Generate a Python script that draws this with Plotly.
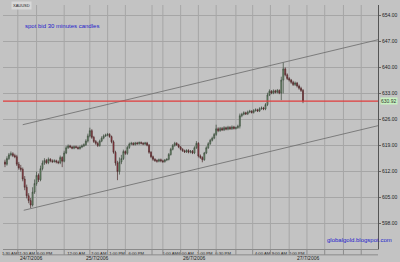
import plotly.graph_objects as go

# ---------------- data ----------------
opens = [614.6, 614.0, 615.5, 616.5, 616.8, 616.3, 616.0, 614.0, 613.0, 612.6,
         610.0, 607.8, 605.5, 604.2, 603.0, 606.5, 608.8, 611.0, 609.8, 612.8,
         614.3, 615.0, 614.4, 615.3, 614.9, 614.7, 614.9, 614.6, 614.4, 615.8,
         614.8, 617.0, 618.4, 618.9, 618.6, 618.3, 618.7, 618.5, 618.2, 618.6,
         618.9, 619.2, 620.2, 621.6, 623.0, 621.2, 620.1, 619.6, 619.0, 620.2,
         621.0, 621.6, 621.8, 622.0, 621.4, 620.0, 617.2, 614.3, 612.0, 614.6,
         615.5, 617.4, 616.9, 618.5, 619.4, 619.6, 619.3, 619.7, 619.5, 619.8,
         619.6, 619.4, 619.7, 619.1, 617.2, 616.0, 615.3, 615.0, 614.8, 615.2,
         614.9, 614.7, 615.1, 615.3, 616.6, 618.0, 619.0, 619.6, 619.2, 618.6,
         618.0, 617.6, 617.3, 617.7, 617.2, 617.5, 617.0, 618.4, 619.6, 616.2,
         615.8, 615.2, 617.0, 618.4, 619.5, 620.4, 621.0, 622.0, 623.5, 623.0,
         623.6, 623.2, 623.8, 623.4, 623.9, 623.5, 624.0, 623.6, 623.8, 624.2,
         627.0, 627.4, 627.8, 627.5, 628.0, 628.2, 627.9, 628.4, 628.6, 628.3,
         628.9, 629.1, 628.8, 630.0, 632.6, 633.6, 633.1, 633.7, 633.3, 633.8,
         633.1, 636.6, 639.6, 638.0, 637.0, 636.6, 636.0, 635.4, 635.8, 635.0,
         634.4, 633.8]
closes = [614.0, 615.5, 616.5, 616.8, 616.3, 616.0, 614.0, 613.0, 612.6, 610.0,
          607.8, 605.5, 604.2, 603.0, 606.5, 608.8, 611.0, 609.8, 612.8, 614.3,
          615.0, 614.4, 615.3, 614.9, 614.7, 614.9, 614.6, 614.4, 615.8, 614.8,
          617.0, 618.4, 618.9, 618.6, 618.3, 618.7, 618.5, 618.2, 618.6, 618.9,
          619.2, 620.2, 621.6, 623.0, 621.2, 620.1, 619.6, 619.0, 620.2, 621.0,
          621.6, 621.8, 622.0, 621.4, 620.0, 617.2, 614.3, 612.0, 614.6, 615.5,
          617.4, 616.9, 618.5, 619.4, 619.6, 619.3, 619.7, 619.5, 619.8, 619.6,
          619.4, 619.7, 619.1, 617.2, 616.0, 615.3, 615.0, 614.8, 615.2, 614.9,
          614.7, 615.1, 615.3, 616.6, 618.0, 619.0, 619.6, 619.2, 618.6, 618.0,
          617.6, 617.3, 617.7, 617.2, 617.5, 617.0, 618.4, 619.6, 616.2, 615.8,
          615.2, 617.0, 618.4, 619.5, 620.4, 621.0, 622.0, 623.5, 623.0, 623.6,
          623.2, 623.8, 623.4, 623.9, 623.5, 624.0, 623.6, 623.8, 624.2, 627.0,
          627.4, 627.8, 627.5, 628.0, 628.2, 627.9, 628.4, 628.6, 628.3, 628.9,
          629.1, 628.8, 630.0, 632.6, 633.6, 633.1, 633.7, 633.3, 633.8, 633.1,
          636.6, 639.6, 638.0, 637.0, 636.6, 636.0, 635.4, 635.8, 635.0, 634.4,
          633.8, 630.9]
highs = [615.2, 616.1, 617.0, 617.4, 617.2, 616.8, 616.5, 614.6, 613.8, 613.1,
         610.8, 608.5, 606.2, 604.9, 607.8, 609.9, 612.0, 611.5, 613.6, 615.0,
         615.6, 615.4, 615.8, 615.6, 615.3, 615.3, 615.2, 615.0, 616.3, 616.1,
         617.6, 618.9, 619.3, 619.2, 618.9, 619.0, 619.0, 618.8, 619.0, 619.3,
         619.6, 620.7, 622.2, 623.8, 623.4, 621.6, 620.5, 620.0, 620.6, 621.5,
         622.0, 622.2, 622.4, 622.3, 621.7, 620.4, 617.6, 614.9, 615.8, 616.5,
         617.9, 617.7, 618.9, 619.8, 620.0, 619.9, 620.0, 620.0, 620.1, 620.1,
         619.9, 620.0, 620.0, 619.4, 617.5, 616.3, 615.6, 615.3, 615.5, 615.5,
         615.2, 615.4, 615.6, 617.0, 618.4, 619.4, 620.0, 619.9, 619.5, 618.9,
         618.3, 617.9, 618.0, 618.0, 617.8, 617.8, 618.8, 620.2, 619.9, 616.6,
         616.1, 617.3, 618.8, 619.9, 620.8, 621.4, 622.4, 624.6, 623.9, 624.0,
         624.0, 624.2, 624.1, 624.3, 624.2, 624.4, 624.3, 624.1, 624.6, 627.6,
         627.8, 628.2, 628.1, 628.4, 628.6, 628.5, 628.8, 629.0, 628.9, 629.3,
         629.5, 629.4, 630.4, 633.2, 634.1, 633.9, 634.1, 634.0, 634.2, 634.1,
         637.5, 641.3, 640.0, 638.4, 637.4, 636.9, 636.4, 636.2, 636.1, 635.4,
         634.8, 634.2]
lows = [613.2, 613.6, 615.1, 616.1, 615.9, 615.6, 613.5, 612.5, 612.0, 609.4,
        607.0, 604.8, 603.5, 602.2, 602.6, 606.0, 608.2, 609.2, 609.4, 612.3,
        613.8, 614.0, 614.0, 614.5, 614.3, 614.4, 614.2, 614.0, 614.0, 613.2,
        614.5, 616.7, 618.1, 618.3, 618.0, 618.0, 618.2, 617.9, 617.9, 618.3,
        618.6, 618.9, 619.8, 621.2, 620.8, 619.7, 619.2, 618.6, 618.7, 619.9,
        620.7, 621.3, 621.5, 621.1, 619.6, 616.8, 613.6, 609.7, 611.2, 614.0,
        615.1, 616.5, 616.5, 618.1, 619.1, 619.0, 619.0, 619.2, 619.2, 619.3,
        619.1, 619.1, 618.8, 616.8, 615.6, 614.9, 614.6, 614.4, 614.5, 614.5,
        614.3, 614.4, 614.8, 615.0, 616.3, 617.7, 618.7, 618.9, 618.3, 617.7,
        617.3, 617.0, 617.0, 616.9, 616.9, 616.7, 616.7, 618.1, 615.8, 615.4,
        614.5, 614.9, 616.7, 618.1, 619.2, 620.1, 620.7, 621.6, 622.6, 622.7,
        622.9, 622.9, 623.1, 623.1, 623.2, 623.2, 623.3, 623.3, 623.5, 623.6,
        626.6, 627.1, 627.2, 627.2, 627.7, 627.6, 627.6, 628.1, 628.0, 628.0,
        628.6, 628.5, 628.5, 629.6, 632.3, 632.8, 632.8, 633.0, 633.0, 632.8,
        631.2, 633.0, 637.6, 636.6, 636.2, 635.6, 635.0, 635.0, 634.6, 634.0,
        633.4, 630.4]
candle_idx = list(range(len(closes)))

last_price = 630.92
price_ticks = [598, 605, 612, 619, 626, 633, 640, 647, 654]

# x-axis (bar index) label cells
time_label_pos = [2.4, 10.8, 20, 36, 47.5, 56.75, 66.5, 83.75, 91.75, 101.25, 110.5, 130.5, 139, 147.75]
time_labels = ["1:30 AM", "11:30 AM", "6:00 PM", "12:00 AM", "7:00 AM", "1:00 PM", "6:00 PM",
               "1:00 AM", "6:00 AM", "1:00 PM", "6:30 PM", "4:00 AM", "9:00 AM", "2:00 PM"]
grid_pos = [6.5, 16, 30, 43, 52, 61, 74.5, 80, 89, 98, 107, 117, 125.5, 134.5, 144, 153, 162, 171.5, 180.5]
date_pos = [13, 46.5, 96, 153.5]
date_labels = ["24/7/2006", "25/7/2006", "26/7/2006", "27/7/2006"]

# parallel trend channel (bar index, price)
upper_x = [9, 189.5]
upper_y = [624.6, 647.5]
lower_x = [9.5, 189.5]
lower_y = [601.6, 624.4]

# ---------------- figure ----------------
BG = "#c3c3c3"
GRID = "#a6a6a6"
FONT = "Arial"

fig = go.Figure()
fig.add_trace(go.Scatter(x=upper_x, y=upper_y, mode="lines",
                         line=dict(color="#6a6a6a", width=0.8), hoverinfo="skip", showlegend=False))
fig.add_trace(go.Scatter(x=lower_x, y=lower_y, mode="lines",
                         line=dict(color="#6a6a6a", width=0.8), hoverinfo="skip", showlegend=False))
fig.add_trace(go.Candlestick(
    x=candle_idx, open=opens, high=highs, low=lows, close=closes,
    increasing=dict(line=dict(color="#3c4a3c", width=0.7), fillcolor="#7aa87a"),
    decreasing=dict(line=dict(color="#4a2a2a", width=0.7), fillcolor="#b83a4a"),
    whiskerwidth=0, showlegend=False))

# vertical grid lines (below the data)
shapes = []
for g in grid_pos:
    shapes.append(dict(type="line", xref="x", yref="paper", x0=g, x1=g, y0=0, y1=1,
                       layer="below", line=dict(color=GRID, width=1)))
    # label-strip cell borders
    shapes.append(dict(type="line", xref="x", yref="paper", x0=g, x1=g, y0=0, y1=-0.024,
                       line=dict(color="#8c8c8c", width=1)))
shapes.append(dict(type="line", xref="paper", yref="paper", x0=0, x1=1, y0=-0.024, y1=-0.024,
                   line=dict(color="#8c8c8c", width=1)))
# current price line
shapes.append(dict(type="line", xref="paper", yref="y", x0=0, x1=1, y0=last_price, y1=last_price,
                   line=dict(color="#e03c3c", width=1.3)))

annotations = []
for p, t in zip(date_pos, date_labels):
    annotations.append(dict(x=p, y=-0.036, xref="x", yref="paper", text=t, showarrow=False,
                            font=dict(family=FONT, size=5, color="#222222"),
                            xanchor="center", yanchor="middle"))
annotations += [
    dict(x=0.0526, y=0.914, xref="paper", yref="paper", text="spot bid 30 minutes candles",
         showarrow=False, font=dict(family=FONT, size=6, color="#2222cc"),
         xanchor="left", yanchor="middle"),
    dict(x=0.858, y=0.037, xref="paper", yref="paper", text="globalgold.blogspot.com",
         showarrow=False, font=dict(family=FONT, size=6, color="#2222cc"),
         xanchor="left", yanchor="middle"),
    dict(x=0.02, y=1.0, xref="paper", yref="paper", text="XAUUSD",
         showarrow=False, font=dict(family=FONT, size=4, color="#222222"),
         xanchor="left", yanchor="middle", bgcolor="#d8d8d8"),
    dict(x=1.006, y=last_price, xref="paper", yref="y", text="%.2f" % last_price,
         showarrow=False, font=dict(family=FONT, size=5, color="#333333"),
         xanchor="left", yanchor="middle", bgcolor="#c8f2c0", borderpad=0),
]

fig.update_layout(
    width=400, height=262,
    margin=dict(l=2, r=18, t=5, b=13),
    paper_bgcolor=BG, plot_bgcolor=BG,
    showlegend=False,
    annotations=annotations,
    shapes=shapes,
    xaxis=dict(
        range=[-1, 189], rangeslider=dict(visible=False),
        tickmode="array", tickvals=time_label_pos, ticktext=time_labels,
        tickangle=0,
        tickfont=dict(family=FONT, size=4.2, color="#222222"),
        ticks="", ticklen=0, showgrid=False, zeroline=False,
        showline=True, linecolor="#8a8a8a", linewidth=1,
    ),
    yaxis=dict(
        side="right", range=[591.2, 656.77],
        tickmode="array", tickvals=price_ticks, ticktext=["%.2f" % v for v in price_ticks],
        tickfont=dict(family=FONT, size=5, color="#222222"),
        ticks="outside", ticklen=2, tickcolor="#666666",
        showgrid=True, gridcolor=GRID, gridwidth=1, zeroline=False,
        showline=True, linecolor="#555555", linewidth=1,
    ),
)

fig.write_html("out.html")
